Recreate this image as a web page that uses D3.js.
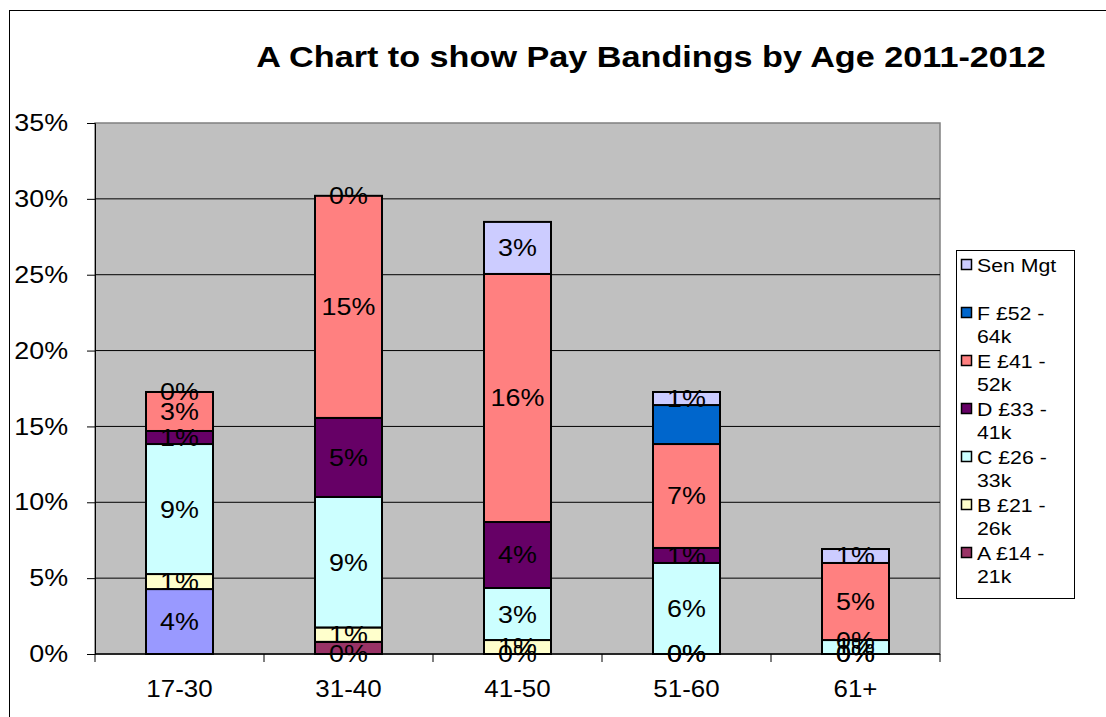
<!DOCTYPE html>
<html><head><meta charset="utf-8">
<script src="https://cdn.jsdelivr.net/npm/d3@7"></script>
<style>body{margin:0;background:#fff}svg{display:block;font-family:"Liberation Sans",Arial,sans-serif}</style>
</head><body><svg id="c" width="1106" height="717"></svg>
<script>
const categories = ["17-30","31-40","41-50","51-60","61+"];
const seriesNames = ["", "A £14 - 21k", "B £21 - 26k", "C £26 - 33k", "D £33 - 41k", "E £41 - 52k", "F £52 - 64k", "Sen Mgt"];
const legendLines = [[], ["A £14 -","21k"], ["B £21 -","26k"], ["C £26 -","33k"], ["D £33 -","41k"], ["E £41 -","52k"], ["F £52 -","64k"], ["Sen Mgt",""]];
const seriesColors = ["#9999FF","#993366","#FFFFCC","#CCFFFF","#660066","#FF8080","#0066CC","#CCCCFF"];
const inLegend = [false,true,true,true,true,true,true,true];
const showLabels = [true,false,true,true,true,true,false,true];
const valX   = [4.28, 0,    0,     0,    0];
const valA   = [0,    0.8,  0,     0,    0];
const valB   = [0.99, 0.95, 0.92,  0,    0];
const valC   = [8.57, 8.6,  3.43,  6.0,  0.92];
const valD   = [0.86, 5.21, 4.35,  0.99, 0];
const valE   = [2.57, 14.64,16.35, 6.85, 5.08];
const valF   = [0,    0,    0,     2.57, 0];
const valSen = [0,    0,    3.43,  0.86, 0.92];
const yTicks = [0,5,10,15,20,25,30,35];
const title = "A Chart to show Pay Bandings by Age 2011-2012";

const SX = 1.12; // horizontal stretch of the reference's text
const values = [valX,valA,valB,valC,valD,valE,valF,valSen];
const svg = d3.select("#c");
function txt(g, x, y, s, opts={}) {
  const t = g.append("text").attr("transform",`translate(${x},${y}) scale(${opts.sx||SX},1)`)
    .attr("font-size",opts.size||24).attr("fill","#000").text(s);
  if (opts.anchor) t.attr("text-anchor",opts.anchor);
  if (opts.baseline) t.attr("dominant-baseline",opts.baseline);
  if (opts.weight) t.attr("font-weight",opts.weight);
  return t;
}
// outer chart border
svg.append("rect").attr("x",9.5).attr("y",10.5).attr("width",1120).attr("height",730)
  .attr("fill","#fff").attr("stroke","#000").attr("stroke-width",1);

const plot = {l:95, r:940, t:123, b:654};
const x = d3.scaleBand().domain(categories).range([plot.l, plot.r]).paddingInner(0).paddingOuter(0);
const y = d3.scaleLinear().domain([0,35]).range([plot.b, plot.t]);

svg.append("rect").attr("x",plot.l).attr("y",plot.t).attr("width",plot.r-plot.l).attr("height",plot.b-plot.t)
  .attr("fill","#C0C0C0").attr("stroke","#808080").attr("stroke-width",1.5);

// gridlines
svg.append("g").selectAll("line").data(yTicks.filter(d=>d>0 && d<35)).join("line")
  .attr("x1",plot.l).attr("x2",plot.r).attr("y1",d=>y(d)).attr("y2",d=>y(d))
  .attr("stroke","#000").attr("stroke-width",1);

// y axis
const yAxis = d3.axisLeft(y).tickValues(yTicks).tickFormat(d=>d+"%").tickSize(8).tickPadding(16);
const gy = svg.append("g").attr("transform",`translate(${plot.l},0)`).call(yAxis);
gy.select(".domain").attr("stroke","#000");
gy.selectAll(".tick line").attr("stroke","#000");
gy.selectAll("text").attr("font-size",24).attr("fill","#000")
  .attr("font-family","Liberation Sans, Arial, sans-serif").attr("transform",`scale(${SX},1)`);

// x axis
const gx = svg.append("g").attr("transform",`translate(0,${plot.b})`);
gx.append("line").attr("x1",plot.l).attr("x2",plot.r).attr("stroke","#000").attr("stroke-width",1.5);
const bounds = categories.map(c=>x(c)).concat([plot.r]);
gx.selectAll("line.t").data(bounds).join("line").attr("class","t")
  .attr("x1",d=>d).attr("x2",d=>d).attr("y1",0).attr("y2",8).attr("stroke","#000");
categories.forEach(c=>txt(gx, x(c)+x.bandwidth()/2, 43, c, {anchor:"middle", sx:1.08}));

// stacked bars
const rows = categories.map((c,i)=>{const o={cat:c}; values.forEach((v,s)=>o["s"+s]=v[i]); return o;});
const keys = values.map((v,s)=>"s"+s);
const stack = d3.stack().keys(keys)(rows);
const bw = 67;
const gb = svg.append("g");
stack.forEach((layer,si)=>{
  gb.append("g").selectAll("rect").data(layer).join("rect")
    .attr("x",d=>x(d.data.cat)+x.bandwidth()/2-bw/2).attr("width",bw)
    .attr("y",d=>y(d[1])).attr("height",d=>Math.max(0,y(d[0])-y(d[1])))
    .attr("fill",seriesColors[si]).attr("stroke",d=>(d[1]-d[0])>0?"#000":"none").attr("stroke-width",2);
});
const gl = svg.append("g");
stack.forEach((layer,si)=>{
  if(!showLabels[si]) return;
  layer.forEach(d=>{
    txt(gl, x(d.data.cat)+x.bandwidth()/2, (y(d[0])+y(d[1]))/2, Math.round(d[1]-d[0])+"%",
      {anchor:"middle", baseline:"central"});
  });
});

// title
txt(svg, 651, 67, title, {anchor:"middle", size:30, weight:"bold", sx:1.14});

// legend
const lg = svg.append("g");
lg.append("rect").attr("x",956.5).attr("y",250.5).attr("width",118).attr("height",348)
  .attr("fill","#fff").attr("stroke","#000").attr("stroke-width",1);
const legendOrder = d3.range(seriesNames.length).reverse().filter(i=>inLegend[i]);
legendOrder.forEach((si,k)=>{
  const y0 = 265 + k*48;
  lg.append("rect").attr("x",961.5).attr("y",y0-5.5).attr("width",10).attr("height",10)
    .attr("fill",seriesColors[si]).attr("stroke","#000").attr("stroke-width",1.5);
  legendLines[si].forEach((t,j)=>{
    if (t) txt(lg, 977, y0+j*23.5, t, {baseline:"central", size:19});
  });
});
</script></body></html>
